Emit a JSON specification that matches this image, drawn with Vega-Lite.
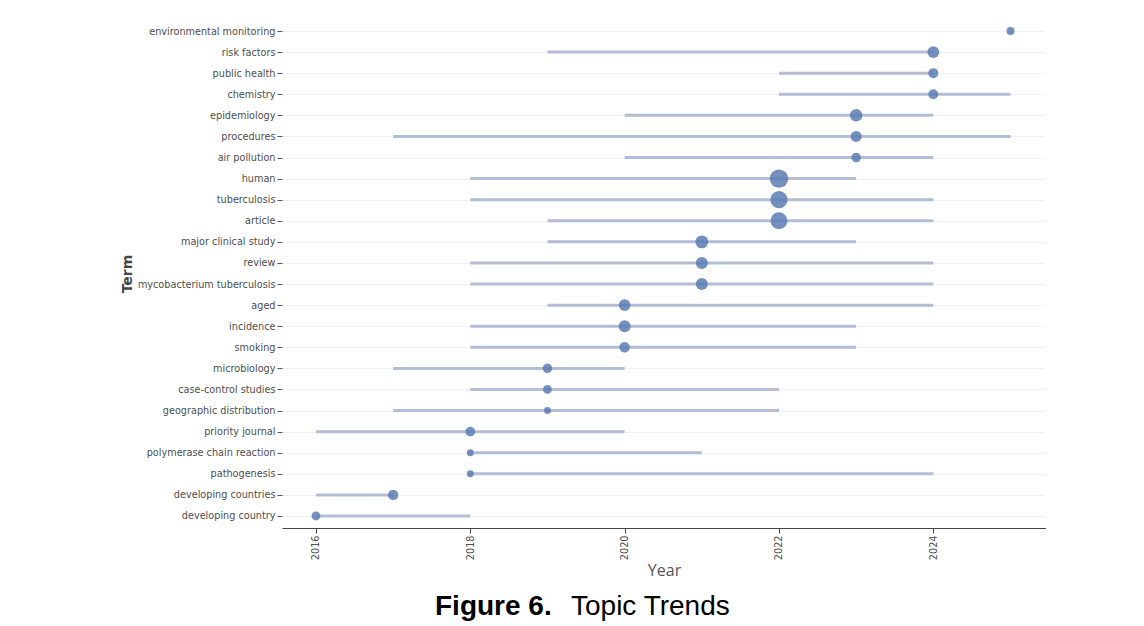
{
  "$schema": "https://vega.github.io/schema/vega-lite/v6.json",
  "padding": {"left": 120, "top": 19, "right": 0, "bottom": 0},
  "autosize": {"type": "pad"},
  "background": "white",
  "title": {"text": "Topic Trends", "orient": "bottom", "anchor": "start", "frame": "group", "font": "Liberation Sans", "fontSize": 28, "fontWeight": "normal", "color": "#000000", "offset": 0, "dx": 289, "dy": -28},
  "config": {"view": {"stroke": null}},
  "vconcat": [
    {
      "title": {"text": "Figure 6.", "orient": "bottom", "anchor": "start", "frame": "group", "font": "Liberation Sans", "fontSize": 28, "fontWeight": "bold", "color": "#000000", "offset": 14, "dx": 153},
      "width": 764,
      "height": 509,
      "data": {"values": [
        {"term": "environmental monitoring", "start": 2025, "peak": 2025, "end": 2025, "freq": 19},
        {"term": "risk factors", "start": 2019, "peak": 2024, "end": 2024, "freq": 42},
        {"term": "public health", "start": 2022, "peak": 2024, "end": 2024, "freq": 30},
        {"term": "chemistry", "start": 2022, "peak": 2024, "end": 2025, "freq": 29},
        {"term": "epidemiology", "start": 2020, "peak": 2023, "end": 2024, "freq": 46},
        {"term": "procedures", "start": 2017, "peak": 2023, "end": 2025, "freq": 36},
        {"term": "air pollution", "start": 2020, "peak": 2023, "end": 2024, "freq": 27},
        {"term": "human", "start": 2018, "peak": 2022, "end": 2023, "freq": 100},
        {"term": "tuberculosis", "start": 2018, "peak": 2022, "end": 2024, "freq": 88},
        {"term": "article", "start": 2019, "peak": 2022, "end": 2024, "freq": 85},
        {"term": "major clinical study", "start": 2019, "peak": 2021, "end": 2023, "freq": 49},
        {"term": "review", "start": 2018, "peak": 2021, "end": 2024, "freq": 43},
        {"term": "mycobacterium tuberculosis", "start": 2018, "peak": 2021, "end": 2024, "freq": 43},
        {"term": "aged", "start": 2019, "peak": 2020, "end": 2024, "freq": 40},
        {"term": "incidence", "start": 2018, "peak": 2020, "end": 2023, "freq": 42},
        {"term": "smoking", "start": 2018, "peak": 2020, "end": 2023, "freq": 33},
        {"term": "microbiology", "start": 2017, "peak": 2019, "end": 2020, "freq": 27},
        {"term": "case-control studies", "start": 2018, "peak": 2019, "end": 2022, "freq": 23},
        {"term": "geographic distribution", "start": 2017, "peak": 2019, "end": 2022, "freq": 14},
        {"term": "priority journal", "start": 2016, "peak": 2018, "end": 2020, "freq": 28},
        {"term": "polymerase chain reaction", "start": 2018, "peak": 2018, "end": 2021, "freq": 14},
        {"term": "pathogenesis", "start": 2018, "peak": 2018, "end": 2024, "freq": 14},
        {"term": "developing countries", "start": 2016, "peak": 2017, "end": 2017, "freq": 32},
        {"term": "developing country", "start": 2016, "peak": 2016, "end": 2018, "freq": 23}
      ]},
      "encoding": {
        "y": {
          "field": "term", "type": "nominal", "sort": null,
          "scale": {"type": "point", "padding": 0.57},
          "axis": {
            "title": "Term", "titleFont": "DejaVu Sans", "titleFontSize": 14, "titleFontWeight": "bold", "titleColor": "#444444", "titlePadding": 3,
            "labelFont": "DejaVu Sans", "labelFontSize": 9.7, "labelColor": "#4d4d4d", "labelPadding": 2,
            "domain": false, "ticks": true, "tickSize": 5, "tickColor": "#555555", "tickWidth": 1,
            "grid": true, "gridColor": "#eef0f4", "gridWidth": 1
          }
        }
      },
      "layer": [
        {
          "mark": {"type": "rule", "color": "#b3bdd9", "strokeWidth": 3, "strokeCap": "butt"},
          "encoding": {
            "x": {
              "field": "start", "type": "quantitative",
              "scale": {"domain": [2015.56, 2025.46], "nice": false, "zero": false},
              "axis": {
                "title": "Year", "titleFont": "Open Sans", "titleFontSize": 16, "titleFontWeight": "normal", "titleColor": "#555555", "titlePadding": 3,
                "values": [2016, 2018, 2020, 2022, 2024], "format": "d",
                "labelAngle": -90, "labelAlign": "right", "labelBaseline": "middle",
                "labelFont": "DejaVu Sans", "labelFontSize": 9.7, "labelColor": "#4d4d4d", "labelPadding": 2,
                "domain": true, "domainColor": "#444444", "domainWidth": 1,
                "ticks": true, "tickSize": 5, "tickColor": "#444444", "grid": false
              }
            },
            "x2": {"field": "end"}
          }
        },
        {
          "mark": {"type": "circle", "color": "#5a7db4", "opacity": 0.85},
          "encoding": {
            "x": {"field": "peak", "type": "quantitative"},
            "size": {"field": "freq", "type": "quantitative", "scale": {"type": "linear", "domain": [0, 100], "range": [0, 340], "zero": true}, "legend": null}
          }
        }
      ]
    }
  ]
}
